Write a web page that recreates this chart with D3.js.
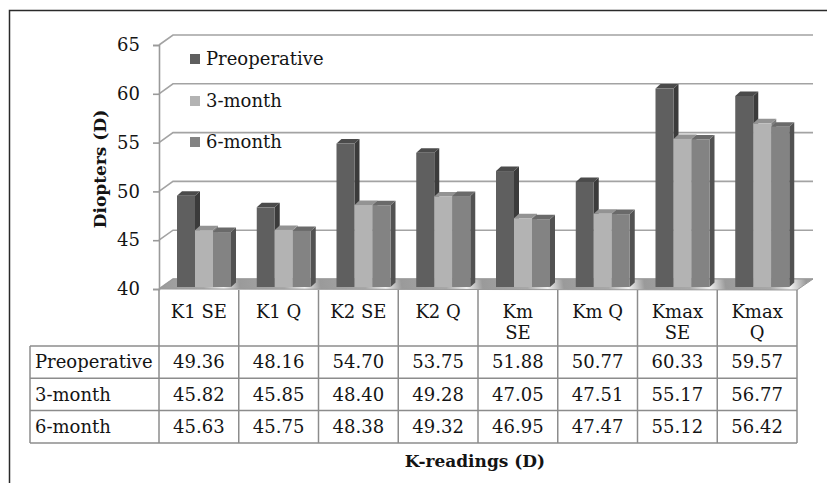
<!DOCTYPE html>
<html>
<head>
<meta charset="utf-8">
<script src="https://cdn.jsdelivr.net/npm/d3@7"></script>
<style>
  html, body { margin: 0; padding: 0; background: #fff; }
  svg { display: block; }
  text { font-family: "DejaVu Serif", serif; fill: #141414; }
</style>
</head>
<body>
<svg id="chart" width="827" height="483"></svg>
<script>
// K-readings per measurement type, for each follow-up visit
const categories = ["K1 SE", "K1 Q", "K2 SE", "K2 Q", "Km SE", "Km Q", "Kmax SE", "Kmax Q"];
const categoryLabelLines = [["K1 SE"], ["K1 Q"], ["K2 SE"], ["K2 Q"], ["Km", "SE"], ["Km Q"], ["Kmax", "SE"], ["Kmax", "Q"]];
const seriesNames = ["Preoperative", "3-month", "6-month"];
const preoperative = [49.36, 48.16, 54.70, 53.75, 51.88, 50.77, 60.33, 59.57];
const month3 = [45.82, 45.85, 48.40, 49.28, 47.05, 47.51, 55.17, 56.77];
const month6 = [45.63, 45.75, 48.38, 49.32, 46.95, 47.47, 55.12, 56.42];
const yTicks = [40, 45, 50, 55, 60, 65];
const yDomain = [40, 65];

const seriesValues = [preoperative, month3, month6];
const faceColors = [
  { front: "#5f5f5f", side: "#3b3b3b", top: "#4b4b4b" },
  { front: "#b3b3b3", side: "#7e7e7e", top: "#939393" },
  { front: "#838383", side: "#525252", top: "#6a6a6a" }
];

const svg = d3.select("#chart");

// Chart frame
svg.append("path")
  .attr("d", "M9.5,483 L9.5,10.5 L827,10.5")
  .attr("fill", "none").attr("stroke", "#2a2a2a").attr("stroke-width", 1.5);

// Geometry of the 3-D plot box
const axisX = 159, plotRight = 797;
const depthDx = 14, depthDy = -10;       // back wall offset
const barDx = 5, barDy = -4.5;           // column depth offset

const x = d3.scaleBand().domain(categories).range([axisX, plotRight]);
const xs = d3.scaleBand().domain(seriesNames).range([18, 72]);
const yFront = d3.scaleLinear().domain(yDomain).range([289, 45]);
const yBar = d3.scaleLinear().domain(yDomain).range([287, 43]);

// Back wall gridlines and side wall slants
const grid = svg.append("g");
yTicks.forEach(v => {
  const yf = yFront(v), yb = yf + depthDy;
  grid.append("path")
    .attr("d", `M${axisX},${yf} L${axisX + depthDx},${yb} L${plotRight + depthDx + 2},${yb}`)
    .attr("fill", "none").attr("stroke", "#a3a3a3").attr("stroke-width", 1.6);
});

// Floor
const defs = svg.append("defs");
const fg = defs.append("linearGradient").attr("id", "floorGrad")
  .attr("gradientUnits", "userSpaceOnUse")
  .attr("x1", axisX).attr("y1", 289).attr("x2", axisX + x.bandwidth()).attr("y2", 279)
  .attr("spreadMethod", "repeat");
fg.append("stop").attr("offset", 0).attr("stop-color", "#9a9a9a");
fg.append("stop").attr("offset", 0.55).attr("stop-color", "#a8a8a8");
fg.append("stop").attr("offset", 0.8).attr("stop-color", "#f2f2f2");
fg.append("stop").attr("offset", 1).attr("stop-color", "#9a9a9a");
const yf40 = yFront(yDomain[0]);
svg.append("path")
  .attr("d", `M${axisX},${yf40} L${axisX + depthDx},${yf40 + depthDy} L${plotRight + depthDx + 2},${yf40 + depthDy} L${plotRight},${yf40 + 1} Z`)
  .attr("fill", "url(#floorGrad)").attr("stroke", "#999").attr("stroke-width", 1);

// Value axis
const yAxis = d3.axisLeft(yFront).tickValues(yTicks).tickSize(6).tickPadding(13);
const axisG = svg.append("g").attr("transform", `translate(${axisX},0)`).call(yAxis);
axisG.select(".domain").attr("stroke", "#9a9a9a").attr("stroke-width", 1.6);
axisG.selectAll(".tick line").attr("stroke", "#9a9a9a").attr("stroke-width", 1.6);
axisG.selectAll(".tick text")
  .style("font-family", "'DejaVu Serif', serif").style("font-size", "18px").attr("fill", "#141414");

// Columns
const bars = svg.append("g");
categories.forEach((c, i) => {
  seriesNames.forEach((s, k) => {
    const v = seriesValues[k][i];
    const x0 = x(c) + xs(s), w = xs.bandwidth();
    const yt = yBar(v), yb = yBar(yDomain[0]);
    const col = faceColors[k];
    const g = bars.append("g");
    g.append("path")
      .attr("d", `M${x0 + w},${yt} L${x0 + w + barDx},${yt + barDy} L${x0 + w + barDx},${yb + barDy} L${x0 + w},${yb} Z`)
      .attr("fill", col.side);
    g.append("path")
      .attr("d", `M${x0},${yt} L${x0 + barDx},${yt + barDy} L${x0 + w + barDx},${yt + barDy} L${x0 + w},${yt} Z`)
      .attr("fill", col.top);
    g.append("rect").attr("x", x0).attr("y", yt).attr("width", w).attr("height", yb - yt)
      .attr("fill", col.front);
  });
});

// Legend
const legend = svg.append("g");
seriesNames.forEach((s, k) => {
  const cy = [59, 101, 142][k];
  legend.append("rect").attr("x", 190).attr("y", cy - 5).attr("width", 10).attr("height", 10)
    .attr("fill", faceColors[k].front);
  legend.append("text").attr("x", 206).attr("y", cy).attr("dy", "0.35em")
    .style("font-size", "18px").text(s);
});

// Data table
const tableLeft = 30, headerTop = 290, headerBottom = 346, rowH = 32.3;
const rowsTop = headerBottom;
const tableBottom = rowsTop + rowH * seriesNames.length;
const lineColor = "#8c8c8c";
const table = svg.append("g").attr("stroke", lineColor).attr("stroke-width", 1.5);
// vertical lines across header and body
categories.forEach(c => {
  table.append("line").attr("x1", x(c)).attr("x2", x(c)).attr("y1", headerTop).attr("y2", tableBottom);
});
table.append("line").attr("x1", plotRight).attr("x2", plotRight).attr("y1", headerTop).attr("y2", tableBottom);
table.append("line").attr("x1", tableLeft).attr("x2", tableLeft).attr("y1", rowsTop).attr("y2", tableBottom);
d3.range(seriesNames.length + 1).forEach(r => {
  const yy = rowsTop + r * rowH;
  table.append("line").attr("x1", tableLeft).attr("x2", plotRight).attr("y1", yy).attr("y2", yy);
});

// header labels
categories.forEach((c, i) => {
  const t = svg.append("text").attr("x", x(c) + x.bandwidth() / 2).attr("y", 312)
    .attr("text-anchor", "middle").attr("dy", "0.35em").style("font-size", "18px");
  categoryLabelLines[i].forEach((ln, j) => {
    t.append("tspan").attr("x", x(c) + x.bandwidth() / 2).attr("dy", j === 0 ? "0.35em" : "1.17em").text(ln);
  });
  t.attr("dy", null);
});

// body cells
seriesNames.forEach((s, k) => {
  const cy = rowsTop + k * rowH + rowH / 2;
  svg.append("text").attr("x", tableLeft + 5).attr("y", cy).attr("dy", "0.35em")
    .style("font-size", "18px").text(s);
  categories.forEach((c, i) => {
    svg.append("text").attr("x", x(c) + x.bandwidth() / 2).attr("y", cy).attr("dy", "0.35em")
      .attr("text-anchor", "middle").style("font-size", "18px")
      .text(d3.format(".2f")(seriesValues[k][i]));
  });
});

// Axis titles
svg.append("text").attr("transform", "translate(100,169) rotate(-90)")
  .attr("text-anchor", "middle").attr("dy", "0.35em")
  .style("font-size", "17px").style("font-weight", "bold").text("Diopters (D)");
svg.append("text").attr("x", 475).attr("y", 461).attr("dy", "0.35em")
  .attr("text-anchor", "middle")
  .style("font-size", "17px").style("font-weight", "bold").text("K-readings (D)");
</script>
</body>
</html>
